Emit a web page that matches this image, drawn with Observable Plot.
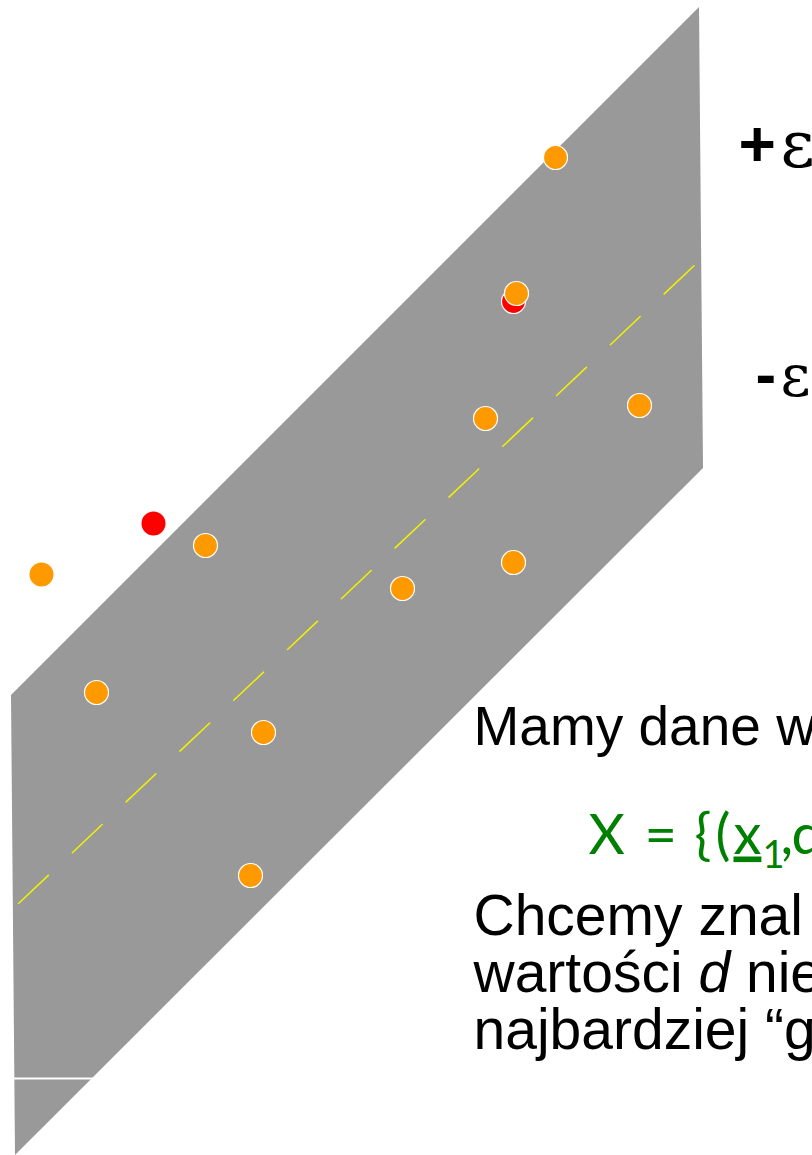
<!DOCTYPE html>
<html>
<head>
<meta charset="utf-8">
<script src="https://cdn.jsdelivr.net/npm/d3@7"></script>
<script src="https://cdn.jsdelivr.net/npm/@observablehq/plot@0.6"></script>
<style>
  html, body { margin: 0; padding: 0; background: #fff; overflow: hidden; }
</style>
</head>
<body>
<div id="chart"></div>
<script>
// ε-insensitive tube: upper edge and lower edge (left end, right end)
const tubeUpperX = [11, 699];
const tubeUpperY = [460, 1148];
const tubeLowerX = [15, 703];
const tubeLowerY = [0, 687];

// fitted regression function (dashed centre line)
const fitX = [18, 698];
const fitY = [252, 894];

// horizontal break across the bottom of the tube
const cutY = [77];
const cutX = [14, 94];

// training samples lying inside the tube
const insideX = [555, 516, 485, 639, 205, 513, 402, 96, 263, 250];
const insideY = [998, 862, 737, 750, 610, 593, 567, 463, 423, 280];

// samples outside the tube
const outsideX = [41];
const outsideY = [581];

// red samples: one above the tube, one hidden under an orange sample
const redOutX = [153];
const redOutY = [632];
const redInX = [513];
const redInY = [854];

// text
const plusLabel = ["+", "ε"];
const minusLabel = ["-", "ε"];
const bodyLines = ["Mamy dane w", "Chcemy znal", "wartości d nie", "najbardziej “g"];
const formula = "X = {(x1,d";

const idx = a => d3.range(a.length);
const sans = "'Liberation Sans', Arial, sans-serif";
const serif = "'DejaVu Serif', serif";

const chart = Plot.plot({
  width: 812,
  height: 1155,
  margin: 0,
  x: {domain: [0, 812], axis: null},
  y: {domain: [0, 1155], axis: null},
  style: {background: "#fff"},
  marks: [
    Plot.area(idx(tubeUpperX), {
      x1: i => tubeUpperX[i], y1: i => tubeUpperY[i],
      x2: i => tubeLowerX[i], y2: i => tubeLowerY[i],
      fill: "#999999"
    }),
    Plot.ruleY(cutY, {x1: cutX[0], x2: cutX[1], stroke: "#ffffff", strokeWidth: 2}),
    Plot.line(idx(fitX), {
      x: i => fitX[i], y: i => fitY[i],
      stroke: "#f2f200", strokeWidth: 1.5, strokeDasharray: "41,33"
    }),
    Plot.dot(idx(redInX), {x: i => redInX[i], y: i => redInY[i], r: 12, fill: "#ff0000", stroke: "#ffffff", strokeWidth: 1.2}),
    Plot.dot(idx(insideX), {x: i => insideX[i], y: i => insideY[i], r: 12, fill: "#ff9900", stroke: "#ffffff", strokeWidth: 1.2}),
    Plot.dot(idx(outsideX), {x: i => outsideX[i], y: i => outsideY[i], r: 12, fill: "#ff9900"}),
    Plot.dot(idx(redOutX), {x: i => redOutX[i], y: i => redOutY[i], r: 12, fill: "#ff0000"}),

    // +ε / -ε tube labels
    Plot.text([plusLabel[0]], {x: 738, y: 990, text: d => d, textAnchor: "start", lineAnchor: "bottom",
      fontFamily: sans, fontWeight: "bold", fontSize: 64, fill: "#000"}),
    Plot.text([plusLabel[1]], {x: 780, y: 989, text: d => d, textAnchor: "start", lineAnchor: "bottom",
      fontFamily: serif, fontSize: 66, fill: "#000"}),
    Plot.text([minusLabel[0]], {x: 755, y: 761, text: d => d, textAnchor: "start", lineAnchor: "bottom",
      fontFamily: sans, fontWeight: "bold", fontSize: 62, fill: "#000"}),
    Plot.text([minusLabel[1]], {x: 780, y: 760, text: d => d, textAnchor: "start", lineAnchor: "bottom",
      fontFamily: serif, fontSize: 58, fill: "#000"}),

    // description
    Plot.text([bodyLines[0]], {x: 473, y: 411, text: d => d, textAnchor: "start", lineAnchor: "bottom",
      fontFamily: sans, fontSize: 55, fill: "#000"}),
    Plot.text([formula], {x: 588, y: 302, text: d => d, textAnchor: "start", lineAnchor: "bottom",
      fontFamily: "Lato, 'Open Sans', sans-serif", fontSize: 56, fill: "#008000"}),
    Plot.text(bodyLines.slice(1), {x: 473, y: (d, i) => 221 - i * 57, text: d => d, textAnchor: "start", lineAnchor: "bottom",
      fontFamily: sans, fontSize: 57, fill: "#000"})
  ]
});

// rich text: italic d, underlined vector x with subscript index
d3.select(chart).selectAll("text").each(function () {
  const t = d3.select(this);
  const s = this.textContent;
  if (s === bodyLines[2]) {
    t.text(null);
    t.append("tspan").text("wartości ");
    t.append("tspan").attr("font-style", "italic").text("d");
    t.append("tspan").text(" nie");
  } else if (s === formula) {
    const bx = +t.attr("x") || 0;
    t.text(null);
    // token offsets along the line, in px from the start of the formula
    const parts = [
      {s: "X", dx: 0},
      {s: "=", dx: 56},
      {s: "{", dx: 106},
      {s: "(", dx: 127},
      {s: "x", dx: 145, underline: true},
      {s: "1", dx: 174, sub: true},
      {s: ",", dx: 192},
      {s: "d", dx: 203}
    ];
    for (const p of parts) {
      const ts = t.append("tspan").attr("x", bx + p.dx).text(p.s);
      if (p.underline) ts.style("text-decoration", "underline");
      if (p.sub) ts.attr("font-size", 38).attr("dy", 14);
      else if (p.s === ",") ts.attr("dy", -14);
    }
  }
});

document.getElementById("chart").appendChild(chart);
</script>
</body>
</html>
